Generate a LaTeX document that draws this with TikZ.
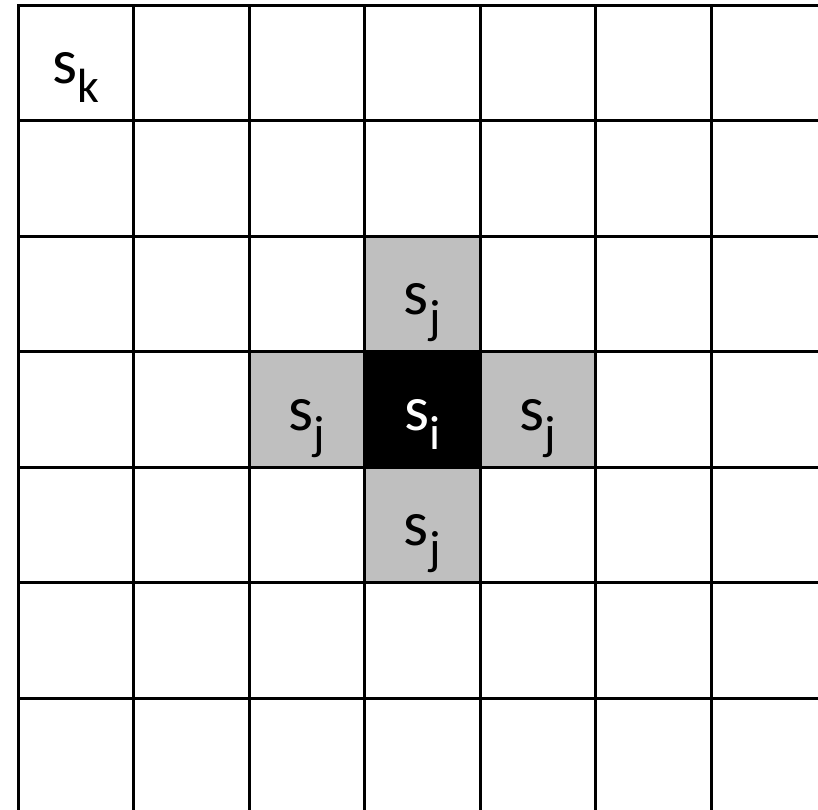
\documentclass[tikz,border=0pt]{standalone}
\usepackage{fontspec}
\setmainfont{Carlito}
\newcommand{\ssub}[1]{s\raisebox{-19pt}{\fontsize{48}{50}\selectfont #1}}
\begin{document}
\begin{tikzpicture}[x=1pt,y=-1pt,
  gridline/.style={line width=3pt, line cap=rect, black},
  nbr/.style={fill=black!25},
  ctr/.style={fill=black},
  lab/.style={anchor=base, inner sep=0pt, font=\fontsize{64}{70}\selectfont}]
\useasboundingbox (0,0) rectangle (818,809);
\clip (0,0) rectangle (818,809);
\def\cs{115.5}
% shaded cells
\fill[nbr] (364.5,236) rectangle (480,351.5);
\fill[nbr] (249,351.5) rectangle (364.5,467);
\fill[nbr] (480,351.5) rectangle (595.5,467);
\fill[nbr] (364.5,467) rectangle (480,582.5);
\fill[ctr] (364.5,351.5) rectangle (480,467);
% grid
\foreach \i in {0,...,7} {
  \draw[gridline] ({18+\cs*\i},5) -- ({18+\cs*\i},830);
  \draw[gridline] (18,{5+\cs*\i}) -- (840,{5+\cs*\i});
}
% labels
\node[lab] (sk) at (75.75,83.75) {\ssub{k}};
\node[lab] (sjt) at (422.25,314.75) {\ssub{j}};
\node[lab] (sjl) at (306.75,430.25) {\ssub{j}};
\node[lab, text=white] (si) at (422.25,430.25) {\ssub{i}};
\node[lab] (sjr) at (537.75,430.25) {\ssub{j}};
\node[lab] (sjb) at (422.25,545.75) {\ssub{j}};
\end{tikzpicture}
\end{document}
